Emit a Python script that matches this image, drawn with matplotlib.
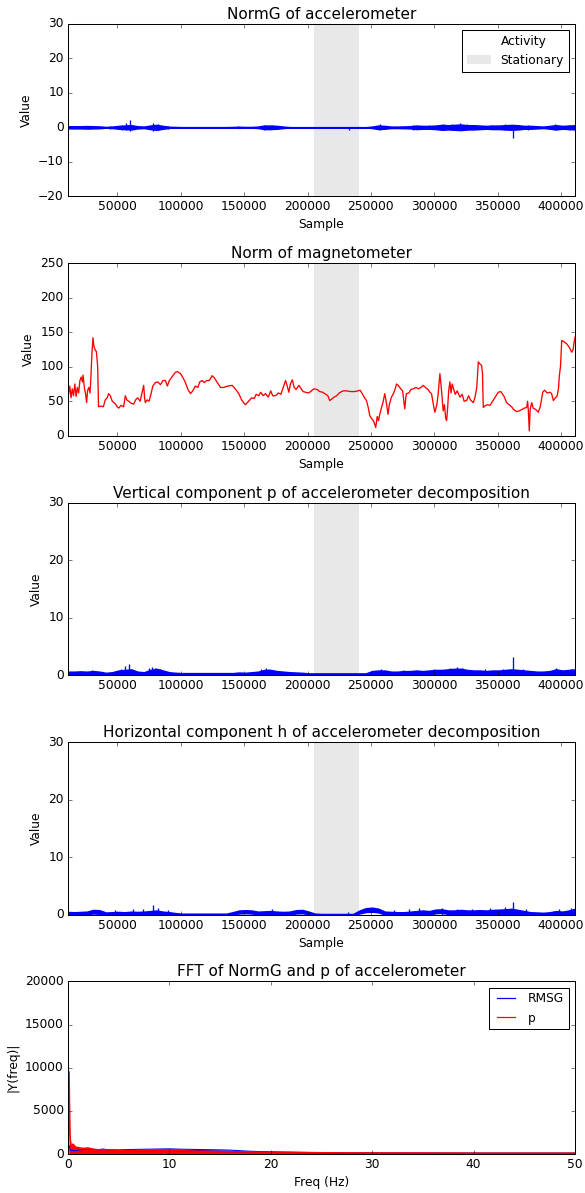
import matplotlib
matplotlib.use('Agg')
import matplotlib.pyplot as plt
from matplotlib.lines import Line2D
import numpy as np

# sample grid (every 5000 samples) for the accelerometer envelopes
samples = list(range(11000, 411001, 5000))

# NormG : half width of the noise band around 0
normg_amp = [0.3, 0.3, 0.3, 0.35, 0.3, 0.25, 0.1, 0.2, 0.4, 0.5,
             0.6, 0.3, 0.2, 0.5, 0.7, 0.4, 0.15, 0.1, 0.05, 0.05,
             0.05, 0.05, 0.05, 0.05, 0.05, 0.05, 0.1, 0.15, 0.1, 0.1,
             0.2, 0.5, 0.5, 0.4, 0.2, 0.05, 0.04, 0.04, 0.04, 0.04,
             0.04, 0.04, 0.04, 0.04, 0.04, 0.04, 0.04, 0.04, 0.2, 0.5,
             0.4, 0.2, 0.2, 0.25, 0.3, 0.5, 0.4, 0.4, 0.5, 0.7,
             0.6, 0.7, 0.8, 0.6, 0.6, 0.5, 0.4, 0.5, 0.5, 0.6,
             0.7, 0.6, 0.4, 0.4, 0.3, 0.2, 0.4, 0.6, 0.4, 0.5, 0.6]
normg_spike_x = [28000, 44000, 54000, 57000, 60000, 78000, 82000, 90000, 145000,
                 166000, 172000, 232500, 257000, 283000, 296000, 307000, 314000,
                 320000, 326000, 345000, 356000, 362000, 374000, 395000, 406000]
normg_spike_hi = [0.5, 0.4, 0.8, 1.2, 2.0, 1.3, 1.0, 0.4, 0.3,
                  0.8, 0.6, 0.1, 0.9, 0.7, 0.6, 1.0, 0.9,
                  1.2, 0.9, 0.7, 0.9, 0.3, 0.6, 0.9, 0.7]
normg_spike_lo = [-0.6, -0.5, -0.8, -0.9, -1.2, -1.0, -0.8, -0.5, -0.3,
                  -0.7, -0.6, -0.8, -0.8, -0.7, -0.6, -0.9, -0.8,
                  -0.9, -0.8, -0.6, -0.8, -3.0, -0.8, -0.8, -0.7]

# vertical component p : upper edge of the band
p_hi = [0.6, 0.6, 0.65, 0.6, 0.7, 0.6, 0.4, 0.5, 0.8, 0.9,
        1.0, 0.6, 0.5, 0.9, 1.1, 0.8, 0.5, 0.4, 0.35, 0.35,
        0.35, 0.35, 0.35, 0.35, 0.35, 0.35, 0.35, 0.45, 0.4, 0.5,
        0.6, 0.9, 0.9, 0.7, 0.6, 0.5, 0.45, 0.4, 0.3, 0.3,
        0.3, 0.3, 0.3, 0.3, 0.3, 0.3, 0.3, 0.3, 0.7, 0.8,
        0.8, 0.6, 0.6, 0.7, 0.7, 0.8, 0.7, 0.8, 0.9, 0.9,
        1.0, 1.1, 1.1, 0.9, 0.8, 0.8, 0.7, 0.8, 0.8, 0.9,
        1.0, 0.9, 0.8, 0.7, 0.6, 0.6, 0.7, 1.0, 0.8, 0.9, 1.0]
p_spike_x = [30000, 53000, 56000, 58900, 75000, 77400, 80000, 84000, 163000, 166900,
             170000, 258000, 275000, 300000, 312000, 317600, 322000, 340000, 354000,
             362300, 370000, 396000, 408000]
p_spike_hi = [0.9, 1.1, 1.6, 2.0, 1.2, 1.5, 1.3, 1.0, 1.0, 1.2,
              1.1, 1.0, 0.9, 1.1, 1.2, 1.4, 1.3, 1.0, 1.1,
              3.2, 1.0, 1.2, 1.1]

# horizontal component h : lower and upper edges of the band
h_hi = [0.45, 0.4, 0.45, 0.5, 0.8, 0.75, 0.35, 0.4, 0.45, 0.4,
        0.5, 0.45, 0.5, 0.6, 0.7, 0.5, 0.4, 0.25, 0.15, 0.15,
        0.15, 0.15, 0.15, 0.15, 0.15, 0.15, 0.4, 0.7, 0.75, 0.7,
        0.5, 0.55, 0.6, 0.5, 0.45, 0.5, 0.75, 0.8, 0.5, 0.15,
        0.1, 0.1, 0.1, 0.1, 0.1, 0.1, 0.7, 1.1, 1.2, 1.0,
        0.5, 0.45, 0.4, 0.4, 0.5, 0.6, 0.7, 0.6, 0.85, 0.9,
        0.7, 0.7, 0.8, 0.7, 0.7, 0.75, 0.7, 0.8, 0.85, 0.9,
        1.0, 0.8, 0.6, 0.4, 0.35, 0.3, 0.4, 0.6, 0.5, 0.7, 1.0]
h_lo = [0, 0, 0, 0.05, 0.2, 0.15, 0, 0, 0, 0,
        0, 0, 0, 0, 0, 0, 0, 0, 0, 0,
        0, 0, 0, 0, 0, 0, 0.05, 0.2, 0.25, 0.2,
        0, 0, 0, 0, 0, 0.05, 0.2, 0.25, 0.05, 0,
        0, 0, 0, 0, 0, 0, 0.2, 0.45, 0.5, 0.4,
        0, 0, 0, 0, 0, 0, 0, 0, 0.25, 0.3,
        0.1, 0, 0, 0, 0, 0, 0, 0, 0, 0,
        0, 0, 0, 0, 0, 0, 0, 0, 0, 0, 0]
h_spike_x = [48000, 62000, 70000, 77900, 82000, 90000, 172000, 232000, 268000,
             280000, 288000, 306000, 318000, 330000, 344000, 356000, 361800,
             372000, 398000, 408000]
h_spike_hi = [0.8, 0.9, 1.0, 1.7, 1.2, 0.8, 0.9, 0.5, 0.8,
              0.9, 1.1, 1.1, 1.0, 1.0, 1.2, 1.4, 2.2,
              0.9, 1.0, 1.2]

# norm of magnetometer
mag_x = [10300, 11500, 12500, 13500, 14500, 15500, 16500, 17500, 18500, 19500,
         20500, 21500, 22500, 23000, 24000, 25000, 25800, 26500, 27500, 28500,
         29300, 30000, 30800, 31500, 32600, 33500, 34500, 35200, 37000, 39000,
         40500, 42000, 43100, 44500, 46000, 48000, 50000, 51000, 53000, 55000,
         56300, 57500, 59000, 61000, 62900, 64500, 66000, 68000, 69500, 70800,
         71500, 72100, 73500, 75000, 76500, 78000, 80000, 82000, 84000, 86000,
         87900, 89500, 91000, 93000, 95800, 97500, 99800, 101500, 103500, 105500,
         107700, 109500, 111500, 113500, 115000, 116900, 118500, 120500, 122500, 124800,
         126500, 128500, 131400, 134000, 137000, 140600, 143000, 145800, 148000, 150000,
         151100, 153500, 156000, 158000, 159500, 161600, 163000, 165000, 166900, 169000,
         171000, 172500, 174800, 177000, 179000, 180500, 182700, 184000, 185300, 186500,
         188000, 189500, 191000, 193200, 195000, 196500, 198500, 201000, 203000, 205000,
         207500, 209600, 212000, 214500, 216000, 217500, 219000, 221000, 223000, 225000,
         228000, 231000, 234000, 237000, 239800, 241500, 243500, 245000, 246500, 248000,
         249100, 250500, 252000, 253800, 255000, 256000, 257000, 258500, 259500, 260900,
         262000, 263500, 264500, 266200, 267500, 268800, 270200, 272000, 273500, 275000,
         276700, 277500, 278000, 280000, 281500, 283300, 285500, 287500, 289500, 291200,
         293000, 295000, 296500, 297800, 299000, 300400, 302000, 303000, 304400, 305500,
         306200, 307000, 308000, 309000, 309700, 310500, 311300, 312300, 313200, 314100,
         314900, 316500, 318000, 320200, 322000, 323500, 325500, 327000, 328500, 330700,
         332000, 333500, 334700, 336000, 337300, 338000, 338600, 340500, 342000, 343900,
         346000, 348000, 350400, 352500, 355000, 357000, 359000, 361000, 362500, 364900,
         367000, 369000, 371000, 372800, 373600, 374200, 374900, 375600, 376800, 378000,
         380000, 382000, 383500, 384500, 385500, 387000, 389000, 391300, 392500, 393900,
         395500, 397000, 398000, 398600, 399500, 400500, 402500, 404500, 406500, 408400,
         409500, 410200, 411000]
mag_y = [70, 60, 72, 55, 68, 58, 75, 57, 70, 62,
         80, 85, 78, 88, 70, 60, 48, 65, 70, 62,
         90, 120, 142, 130, 124, 122, 100, 42, 43, 42,
         52, 55, 61, 58, 50, 47, 42, 40, 44, 42,
         58, 52, 50, 47, 46, 52, 55, 50, 62, 73,
         55, 48, 52, 50, 60, 72, 77, 78, 74, 80,
         80, 72, 80, 85, 92, 93, 90, 85, 78, 68,
         61, 65, 72, 70, 78, 80, 77, 80, 80, 87,
         84, 78, 70, 70, 72, 73, 68, 61, 52, 47,
         45, 50, 55, 54, 60, 58, 63, 58, 61, 56,
         65, 58, 58, 62, 60, 68, 80, 72, 63, 75,
         81, 70, 67, 73, 68, 64, 63, 62, 65, 68,
         67, 64, 63, 60, 58, 51, 53, 56, 58, 62,
         65, 65, 64, 64, 65, 66, 60, 55, 51, 40,
         29, 25, 22, 12, 28, 22, 31, 42, 48, 61,
         50, 31, 45, 56, 60, 66, 75, 72, 68, 65,
         39, 55, 61, 62, 67, 68, 70, 68, 70, 73,
         70, 67, 63, 61, 48, 34, 45, 60, 90, 70,
         55, 36, 45, 25, 22, 40, 65, 78, 62, 75,
         70, 60, 65, 56, 60, 50, 51, 58, 52, 48,
         55, 70, 107, 104, 102, 90, 41, 44, 45, 44,
         50, 56, 63, 64, 57, 48, 45, 42, 38, 35,
         36, 38, 40, 41, 50, 35, 7, 38, 48, 40,
         38, 34, 42, 52, 63, 66, 62, 63, 61, 51,
         55, 58, 70, 87, 100, 138, 136, 133, 128, 121,
         125, 135, 143]

# FFT
fft_freq = [0.12, 0.2, 0.25, 0.3, 0.4, 0.5, 0.75, 1, 1.5, 2, 2.5, 3, 3.5, 4, 5, 6,
            7, 8, 9, 10, 11, 12, 13, 14, 15, 16, 17, 18, 19, 20, 22, 24, 26, 28,
            30, 35, 40, 45, 50]
fft_rmsg = [1000, 600, 450, 400, 420, 380, 380, 450, 520, 580, 540, 520, 560, 500,
            480, 520, 540, 560, 580, 600, 560, 540, 520, 500, 480, 450, 380, 320,
            280, 260, 220, 180, 160, 140, 130, 120, 110, 110, 110]
fft_p = [9500, 2400, 1600, 1100, 900, 1150, 800, 750, 650, 700, 550, 480, 520, 450,
         420, 400, 380, 380, 400, 420, 380, 350, 330, 300, 280, 260, 240, 220,
         200, 190, 170, 150, 140, 130, 120, 110, 100, 100, 100]

stationary = (205000, 241000)

plt.style.use('classic')
plt.rcParams['figure.facecolor'] = 'white'
plt.rcParams['savefig.facecolor'] = 'white'
plt.rcParams['font.size'] = 12
plt.rcParams['axes.titlesize'] = 15

fig, axes = plt.subplots(5, 1, figsize=(8, 16.315), dpi=73.125)
fig.subplots_adjust(left=0.116, right=0.983, top=0.98, bottom=0.0327, hspace=0.388)

x = np.array(samples)


def shade(ax, with_legend=False):
    ax.axvspan(x[0], stationary[0], facecolor='white', edgecolor='none',
               label='Activity', zorder=0)
    ax.axvspan(stationary[0], stationary[1], facecolor='#e8e8e8',
               edgecolor='none', label='Stationary', zorder=0)
    if with_legend:
        ax.legend(loc='upper right', fontsize=12)


# 1 - NormG
ax = axes[0]
shade(ax, True)
amp = np.array(normg_amp)
ax.fill_between(x, -amp, amp, color='b', lw=1.5)
ax.vlines(normg_spike_x, normg_spike_lo, normg_spike_hi, color='b', lw=1.3)
ax.set_xlim(x[0], x[-1])
ax.set_ylim(-20, 30)
ax.set_title('NormG of accelerometer')
ax.set_xlabel('Sample')
ax.set_ylabel('Value')

# 2 - magnetometer
ax = axes[1]
shade(ax)
ax.plot(mag_x, mag_y, color='r', lw=1.3)
ax.set_xlim(x[0], x[-1])
ax.set_ylim(0, 250)
ax.set_title('Norm of magnetometer')
ax.set_xlabel('Sample')
ax.set_ylabel('Value')

# 3 - p
ax = axes[2]
shade(ax)
ax.fill_between(x, 0, p_hi, color='b', lw=1.5)
ax.vlines(p_spike_x, 0, p_spike_hi, color='b', lw=1.3)
ax.set_xlim(x[0], x[-1])
ax.set_ylim(0, 30)
ax.set_yticks([0, 10, 20, 30])
ax.set_title('Vertical component p of accelerometer decomposition')
ax.set_ylabel('Value')

# 4 - h
ax = axes[3]
shade(ax)
ax.fill_between(x, h_lo, h_hi, color='b', lw=1.5)
ax.vlines(h_spike_x, 0, h_spike_hi, color='b', lw=1.3)
ax.set_xlim(x[0], x[-1])
ax.set_ylim(0, 30)
ax.set_yticks([0, 10, 20, 30])
ax.set_title('Horizontal component h of accelerometer decomposition')
ax.set_xlabel('Sample')
ax.set_ylabel('Value')

for ax in axes[:4]:
    ax.set_xticks(range(50000, 400001, 50000))

# 5 - FFT
ax = axes[4]
ax.plot(fft_freq, fft_rmsg, color='b', lw=1)
ax.fill_between(fft_freq, 0, fft_rmsg, color='b', lw=0)
ax.plot(fft_freq, fft_p, color='#ff0000', lw=1.5)
ax.fill_between(fft_freq, 0, fft_p, color='#ff0000', lw=0)
ax.set_xlim(0, 50)
ax.set_ylim(0, 20000)
ax.set_title('FFT of NormG and p of accelerometer')
ax.set_xlabel('Freq (Hz)')
ax.set_ylabel('|Y(freq)|')
handles = [Line2D([], [], color='b', lw=1.2),
           Line2D([], [], color='#ff0000', lw=1.2)]
ax.legend(handles, ['RMSG', 'p'], loc='upper right', fontsize=12)

fig.savefig('out.png', dpi=73.125)
